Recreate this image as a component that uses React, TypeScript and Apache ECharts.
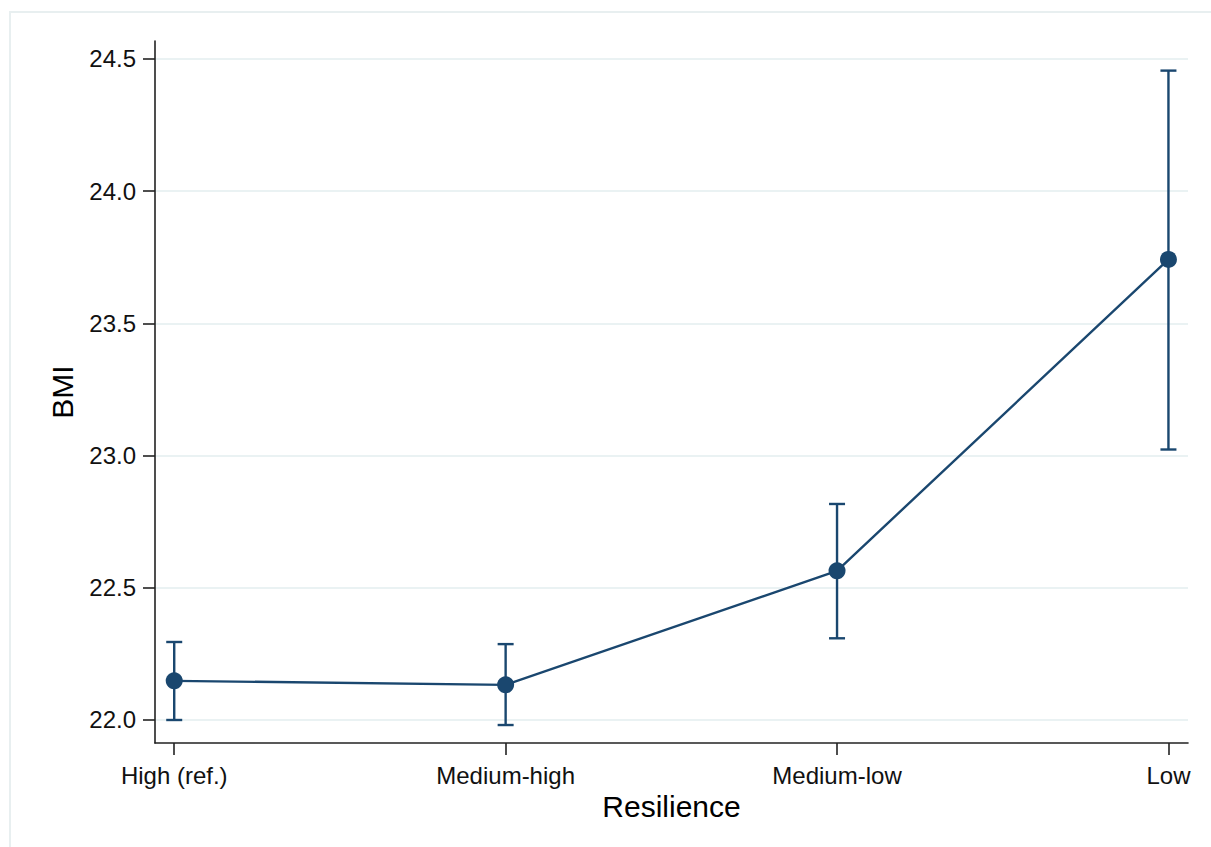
import React, { useEffect, useRef } from "react";
import * as echarts from "echarts";

const categories = ["High (ref.)", "Medium-high", "Medium-low", "Low"];
const bmiMean = [22.148, 22.133, 22.564, 23.742];
const ciLower = [22.0, 21.981, 22.309, 23.023];
const ciUpper = [22.295, 22.287, 22.817, 24.456];
const yTicks = [22.0, 22.5, 23.0, 23.5, 24.0, 24.5];

const NAVY = "#1a476f";
const FONT = "Liberation Sans, Arial, sans-serif";

export default function App() {
  const ref = useRef<HTMLDivElement>(null);
  useEffect(() => {
    if (!ref.current) return;
    const chart = echarts.init(ref.current, null, { renderer: "svg" });
    const xs = categories.map((_, i) => i);
    chart.setOption({
      animation: false,
      backgroundColor: "#ffffff",
      textStyle: { fontFamily: FONT },
      graphic: [
        {
          type: "rect",
          shape: { x: 10, y: 12, width: 1400, height: 1000 },
          style: { fill: "none", stroke: "#e8eff0", lineWidth: 2 },
          silent: true,
          z: -10,
        },
      ],
      grid: { left: 155, top: 41, right: 23, bottom: 104, containLabel: false },
      xAxis: {
        type: "value",
        min: -0.058,
        max: 3.059,
        name: "Resilience",
        nameLocation: "middle",
        nameGap: 45,
        nameTextStyle: { fontSize: 30, color: "#000", fontFamily: FONT },
        axisLine: { show: true, onZero: false, lineStyle: { color: "#222", width: 1.6 } },
        axisTick: {
          show: true,
          length: 12,
          customValues: xs,
          lineStyle: { color: "#222", width: 1.6 },
        },
        axisLabel: {
          customValues: xs,
          margin: 20,
          fontSize: 24,
          color: "#111",
          fontFamily: FONT,
          formatter: (v: number) => categories[Math.round(v)] ?? "",
        },
        splitLine: { show: false },
      },
      yAxis: {
        type: "value",
        min: 21.913,
        max: 24.568,
        name: "BMI",
        nameLocation: "middle",
        nameGap: 78,
        nameRotate: 90,
        nameTextStyle: { fontSize: 30, color: "#000", fontFamily: FONT },
        axisLine: { show: true, onZero: false, lineStyle: { color: "#222", width: 1.6 } },
        axisTick: {
          show: true,
          length: 12,
          customValues: yTicks,
          lineStyle: { color: "#222", width: 1.6 },
        },
        axisLabel: {
          customValues: yTicks,
          margin: 19,
          fontSize: 24,
          color: "#111",
          fontFamily: FONT,
          formatter: (v: number) => v.toFixed(1),
        },
        splitLine: { show: true, lineStyle: { color: "#eaf2f3", width: 2 } },
      },
      series: [
        {
          type: "custom",
          name: "CI",
          data: xs.map((x, i) => [x, ciLower[i], ciUpper[i]]),
          encode: { x: 0, y: [1, 2] },
          z: 2,
          renderItem: (params: any, api: any) => {
            const x = api.value(0);
            const lo = api.coord([x, api.value(1)]);
            const hi = api.coord([x, api.value(2)]);
            const hw = 8;
            const style = { stroke: NAVY, lineWidth: 2.4 };
            return {
              type: "group",
              children: [
                { type: "line", shape: { x1: lo[0], y1: lo[1], x2: hi[0], y2: hi[1] }, style },
                { type: "line", shape: { x1: hi[0] - hw, y1: hi[1], x2: hi[0] + hw, y2: hi[1] }, style },
                { type: "line", shape: { x1: lo[0] - hw, y1: lo[1], x2: lo[0] + hw, y2: lo[1] }, style },
              ],
            };
          },
        },
        {
          type: "line",
          name: "BMI",
          data: xs.map((x, i) => [x, bmiMean[i]]),
          symbol: "circle",
          symbolSize: 17,
          itemStyle: { color: NAVY },
          lineStyle: { color: NAVY, width: 2.4 },
          z: 3,
        },
      ],
    });
    return () => chart.dispose();
  }, []);
  return (
    <div
      ref={ref}
      style={{ position: "absolute", left: 0, top: 0, width: 1211, height: 847 }}
    />
  );
}
